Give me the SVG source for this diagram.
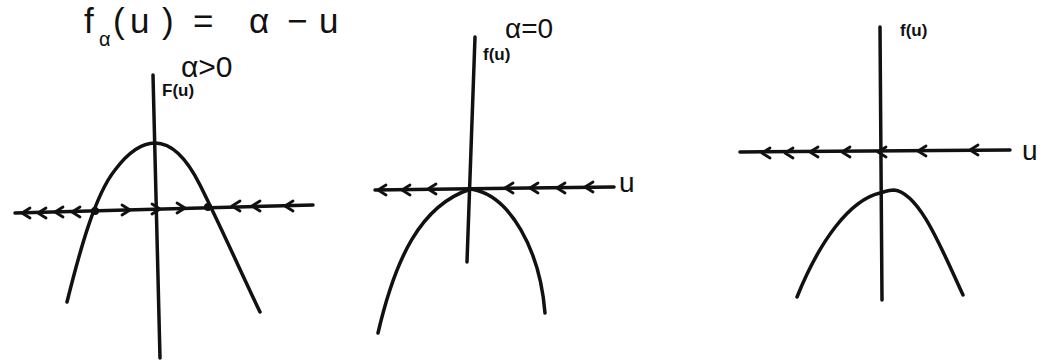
<svg xmlns="http://www.w3.org/2000/svg" xmlns:xlink="http://www.w3.org/1999/xlink" width="1063" height="360" viewBox="0 0 1063 360">
  <style>
    .ink { fill: none; stroke: #111; stroke-width: 3.5; stroke-linecap: round; stroke-linejoin: round; }
    .thin { fill: none; stroke: #111; stroke-width: 2.8; stroke-linecap: round; stroke-linejoin: round; }
    .hand { font-family: "Liberation Sans", "DejaVu Sans", sans-serif; fill: #111; }
    .title { font-size: 35px; }
    .lbl { font-size: 17px; font-weight: bold; }
    .dot { fill: #111; }
  </style>
  <defs>
    <path id="chevL" class="thin" d="M8,-5 L0,0 L8,5"/>
    <path id="chevR" class="thin" d="M-8,-5 L0,0 L-8,5"/>
  </defs>
  <rect width="1063" height="360" fill="#fff"/>

  <g id="title">
    <text class="hand title" x="84" y="33">f</text>
    <text class="hand" x="99" y="46" font-size="20">α</text>
    <text class="hand title" y="33"><tspan x="113">(</tspan><tspan x="130">u</tspan><tspan x="162">)</tspan><tspan x="193">=</tspan><tspan x="249">α</tspan><tspan x="287">−</tspan><tspan x="319">u</tspan></text>
  </g>

  <g id="plot-positive">
    <path class="ink" d="M153,75 L160,358"/>
    <text class="hand lbl" x="162" y="96">F(u)</text>
    <text class="hand" x="181" y="77" font-size="30">α&gt;0</text>
    <path class="ink" d="M15,213 L313,205"/>
    <path class="ink" d="M67,302 C80,250 95,195 115,170 C130,150 143,143 155,143 C170,143 185,155 200,185 C220,225 240,270 260,312"/>
    <circle class="dot" cx="95" cy="211" r="4"/>
    <circle class="dot" cx="208" cy="207" r="4"/>
    <use xlink:href="#chevL" x="22" y="213"/>
    <use xlink:href="#chevL" x="38" y="213"/>
    <use xlink:href="#chevL" x="55" y="212"/>
    <use xlink:href="#chevL" x="72" y="212"/>
    <use xlink:href="#chevR" x="130" y="210"/>
    <use xlink:href="#chevR" x="160" y="209"/>
    <use xlink:href="#chevR" x="185" y="208"/>
    <use xlink:href="#chevL" x="232" y="206"/>
    <use xlink:href="#chevL" x="252" y="206"/>
    <use xlink:href="#chevL" x="285" y="206"/>
  </g>

  <g id="plot-zero">
    <path class="ink" d="M475,37 L467,262"/>
    <text class="hand lbl" x="483" y="60">f(u)</text>
    <text class="hand" x="505" y="38" font-size="28">α=0</text>
    <path class="ink" d="M375,190 L614,187"/>
    <text class="hand" x="619" y="192" font-size="28">u</text>
    <path class="ink" d="M378,333 C395,260 420,205 471,189 C510,195 540,250 545,313"/>
    <use xlink:href="#chevL" x="378" y="190"/>
    <use xlink:href="#chevL" x="402" y="190"/>
    <use xlink:href="#chevL" x="428" y="189"/>
    <use xlink:href="#chevL" x="505" y="188"/>
    <use xlink:href="#chevL" x="530" y="188"/>
    <use xlink:href="#chevL" x="557" y="188"/>
    <use xlink:href="#chevL" x="585" y="187"/>
  </g>

  <g id="plot-negative">
    <path class="ink" d="M880,27 L882,300"/>
    <text class="hand lbl" x="900" y="36">f(u)</text>
    <path class="ink" d="M740,152 L1010,150"/>
    <text class="hand" x="1022" y="160" font-size="28">u</text>
    <path class="ink" d="M797,297 C820,240 850,200 880,193 C886,191 890,190 894,190 C920,193 942,250 963,295"/>
    <use xlink:href="#chevL" x="762" y="153"/>
    <use xlink:href="#chevL" x="785" y="153"/>
    <use xlink:href="#chevL" x="810" y="152"/>
    <use xlink:href="#chevL" x="842" y="152"/>
    <use xlink:href="#chevL" x="878" y="152"/>
    <use xlink:href="#chevL" x="918" y="151"/>
    <use xlink:href="#chevL" x="970" y="150"/>
  </g>
</svg>
